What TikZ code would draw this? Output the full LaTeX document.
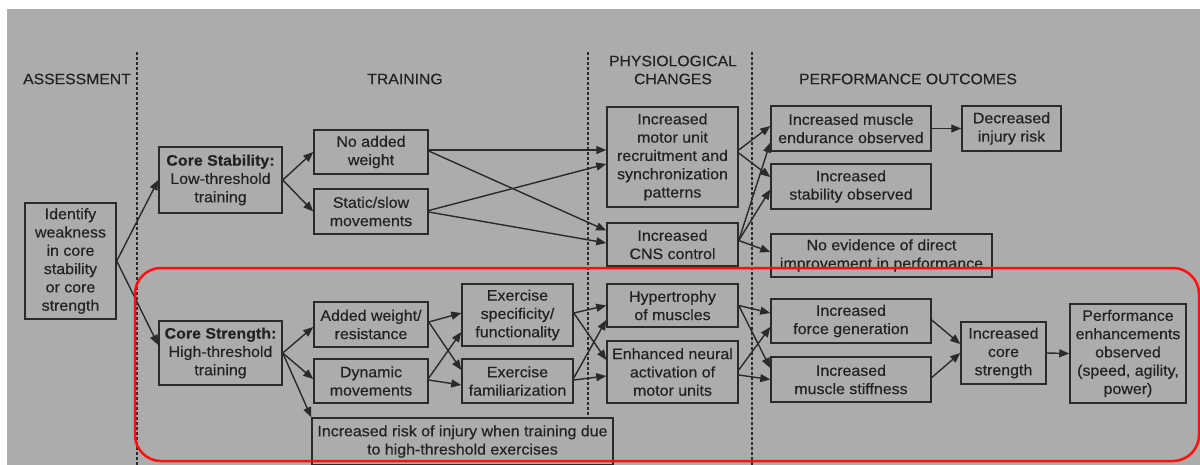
\documentclass[tikz,border=0pt]{standalone}
\usepackage{fontspec}
\setmainfont{Liberation Sans}[FakeStretch=1.05,FakeBold=0.35]
\usetikzlibrary{arrows.meta,calc}
\definecolor{bgC}{HTML}{ACACAC}
\definecolor{lnC}{HTML}{2A2A2A}
\definecolor{txC}{HTML}{222222}
\definecolor{redC}{HTML}{FF1010}
\begin{document}
\begin{tikzpicture}[x=1pt,y=-1pt,
  box/.style={draw=lnC, line width=1.5pt, fill=bgC, align=center, inner sep=0pt, text=txC,
    font=\fontsize{15.2}{18.3}\selectfont},
  hdr/.style={align=center, inner sep=0pt, text=txC, font=\fontsize{15}{18}\selectfont},
  arr/.style={draw=lnC, line width=1.4pt, -{Triangle[length=10pt,width=8pt]}},
  dotline/.style={draw=lnC, line width=1.6pt, dash pattern=on 2.5pt off 2.5pt}]
\useasboundingbox (0,0) rectangle (1200,464);
\clip (0,0) rectangle (1200,464);
\fill[white] (0,0) rectangle (1200,464);
\fill[bgC] (7,9) rectangle (1200,470);
% headers
\node[hdr] (hA) at (77,79) {ASSESSMENT};
\node[hdr] (hT) at (405,79) {TRAINING};
\node[hdr] (hP) at (673,70) {PHYSIOLOGICAL\\CHANGES};
\node[hdr] (hO) at (908,79) {PERFORMANCE OUTCOMES};
% dotted separators
\coordinate (d1t) at (137,52); \coordinate (d1b) at (137,470);
\coordinate (d2t) at (588,52); \coordinate (d2b) at (588,470);
\coordinate (d3t) at (752,52); \coordinate (d3b) at (752,470);
\draw[dotline] (d1t) -- (d1b);
\draw[dotline] (d2t) -- (d2b);
\draw[dotline] (d3t) -- (d3b);
% boxes
\node[box, minimum width=91pt, minimum height=116pt] (id) at (70.5,261) {Identify\\weakness\\in core\\stability\\or core\\strength};
\node[box, minimum width=123pt, minimum height=66pt] (cstab) at (220.5,180) {\textbf{Core Stability:}\\Low-threshold\\training};
\node[box, minimum width=123pt, minimum height=64pt] (cstr) at (220.5,353) {\textbf{Core Strength:}\\High-threshold\\training};
\node[box, minimum width=114pt, minimum height=44pt] (noadd) at (371,152) {No added\\weight};
\node[box, minimum width=114pt, minimum height=45pt] (static) at (371,211.5) {Static/slow\\movements};
\node[box, minimum width=131pt, minimum height=100pt] (motor) at (672.5,157) {Increased\\motor unit\\recruitment and\\synchronization\\patterns};
\node[box, minimum width=131pt, minimum height=43pt] (cns) at (672.5,244.5) {Increased\\CNS control};
\node[box, minimum width=160pt, minimum height=45pt] (endur) at (851,128.5) {Increased muscle\\endurance observed};
\node[box, minimum width=160pt, minimum height=45pt] (stab) at (851,186.5) {Increased\\stability observed};
\node[box, minimum width=221pt, minimum height=43pt] (noev) at (881.5,255.5) {No evidence of direct\\improvement in performance};
\node[box, minimum width=99pt, minimum height=45pt] (decr) at (1011.5,128.5) {Decreased\\injury risk};
\node[box, minimum width=114pt, minimum height=45pt] (added) at (371,324.5) {Added weight/\\resistance};
\node[box, minimum width=114pt, minimum height=44pt] (dyn) at (371,381) {Dynamic\\movements};
\node[box, minimum width=111pt, minimum height=62pt] (exspec) at (517.5,315) {Exercise\\specificity/\\functionality};
\node[box, minimum width=111pt, minimum height=44pt] (exfam) at (517.5,381) {Exercise\\familiarization};
\node[box, minimum width=301pt, minimum height=47pt] (injury) at (462.5,441.5) {Increased risk of injury when training due\\to high-threshold exercises};
\node[box, minimum width=131pt, minimum height=43pt] (hyper) at (672.5,305.5) {Hypertrophy\\of muscles};
\node[box, minimum width=131pt, minimum height=62pt] (enh) at (672.5,372) {Enhanced neural\\activation of\\motor units};
\node[box, minimum width=160pt, minimum height=44pt] (force) at (851,321) {Increased\\force generation};
\node[box, minimum width=160pt, minimum height=45pt] (stiff) at (851,379.5) {Increased\\muscle stiffness};
\node[box, minimum width=85pt, minimum height=62pt] (cstrength) at (1003.5,353) {Increased\\core\\strength};
\node[box, minimum width=116pt, minimum height=99pt] (perf) at (1128,353.5) {Performance\\enhancements\\observed\\(speed, agility,\\power)};
% upper arrows
\draw[arr] (id.east) -- (cstab.west);
\draw[arr] (id.east) -- ($(cstr.west)+(0,-8)$);
\draw[arr] (cstab.east) -- (noadd.west);
\draw[arr] (cstab.east) -- (static.west);
\draw[arr] ($(noadd.east)+(0,-2)$) -- ($(motor.west)+(0,-7)$);
\draw[arr] ($(noadd.east)+(0,-1)$) -- ($(cns.west)+(0,-14)$);
\draw[arr] ($(static.east)+(0,-1)$) -- ($(motor.west)+(0,7)$);
\draw[arr] ($(static.east)+(0,0.5)$) -- ($(cns.west)+(0,-1.5)$);
\draw[arr] ($(motor.east)+(0,-7)$) -- ($(endur.west)+(0,-2.5)$);
\draw[arr] ($(motor.east)+(0,-4)$) -- ($(stab.west)+(0,-9.5)$);
\draw[arr] ($(cns.east)+(0,-4)$) -- ($(endur.west)+(0,14)$);
\draw[arr] ($(cns.east)+(0,-4)$) -- ($(stab.west)+(0,3)$);
\draw[arr] ($(cns.east)+(0,-4)$) -- ($(noev.west)+(0,-3.5)$);
\draw[arr] (endur.east) -- (decr.west);
% lower arrows
\draw[arr] (cstr.east) -- ($(added.west)+(0,2.5)$);
\draw[arr] (cstr.east) -- ($(dyn.west)+(0,-2)$);
\draw[arr] (cstr.east) -- (injury.north west);
\draw[arr] ($(added.east)+(0,-2.5)$) -- ($(exspec.west)+(0,-2)$);
\draw[arr] ($(added.east)+(0,-2.5)$) -- ($(exfam.west)+(0,-11)$);
\draw[arr] ($(dyn.east)+(0,-3)$) -- ($(exspec.west)+(0,17)$);
\draw[arr] ($(dyn.east)+(0,-1)$) -- ($(exfam.west)+(0,4)$);
\draw[arr] ($(exspec.east)+(0,-2)$) -- (hyper.west);
\draw[arr] ($(exspec.east)+(0,-2)$) -- ($(enh.west)+(0,-12)$);
\draw[arr] ($(exfam.east)+(0,-3)$) -- ($(hyper.west)+(0,14.5)$);
\draw[arr] ($(exfam.east)+(0,-1)$) -- ($(enh.west)+(0,4)$);
\draw[arr] (hyper.east) -- ($(force.west)+(0,-8)$);
\draw[arr] (hyper.east) -- ($(stiff.west)+(0,-11.5)$);
\draw[arr] ($(enh.east)+(0,-2)$) -- ($(force.west)+(0,6)$);
\draw[arr] ($(enh.east)+(0,3)$) -- (stiff.west);
\draw[arr] ($(force.east)+(0,-1)$) -- ($(cstrength.west)+(0,-9)$);
\draw[arr] ($(stiff.east)+(0,-2)$) -- (cstrength.west);
\draw[arr] (cstrength.east) -- (perf.west);
% red highlight
\draw[redC, line width=2.5pt, rounded corners=26pt] (135,268) rectangle (1199,461);
\end{tikzpicture}
\end{document}
